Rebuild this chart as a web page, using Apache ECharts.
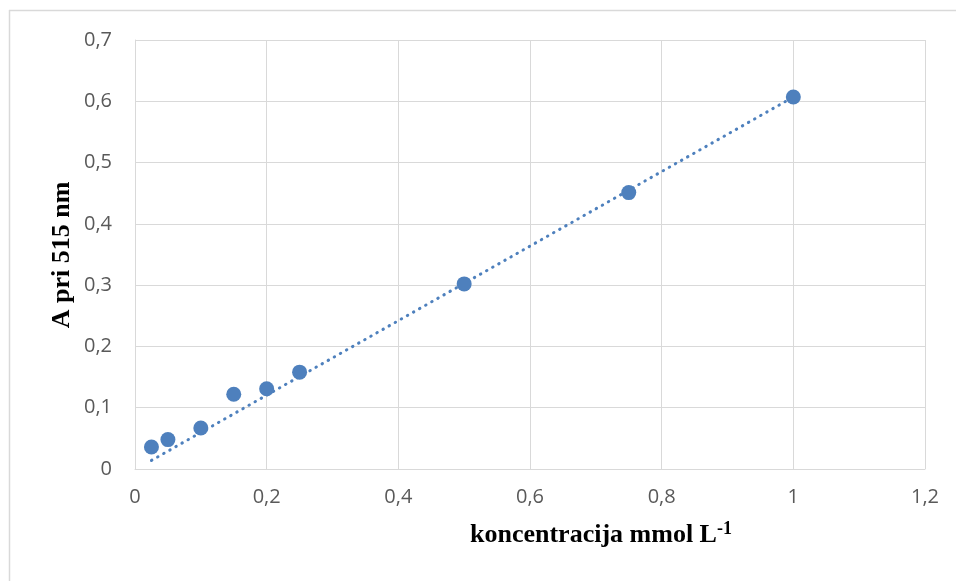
<!DOCTYPE html>
<html>
<head>
<meta charset="utf-8">
<script src="https://cdn.jsdelivr.net/npm/echarts@6/dist/echarts.min.js"></script>
<style>
html,body{margin:0;padding:0;background:#fff;}
#chart{width:956px;height:581px;}
</style>
</head>
<body>
<div id="chart"></div>
<script>
// Data
const concentrations = [0.025, 0.05, 0.1, 0.15, 0.2, 0.25, 0.5, 0.75, 1.0];
const absorbances = [0.036, 0.048, 0.067, 0.122, 0.131, 0.158, 0.302, 0.451, 0.607];
// Trendline endpoints (dotted linear fit)
const trendX = [0.025, 1.0];
const trendY = [0.014, 0.607];
const xTicks = ['0', '0,2', '0,4', '0,6', '0,8', '1', '1,2'];
const yTicks = ['0', '0,1', '0,2', '0,3', '0,4', '0,5', '0,6', '0,7'];
const xTitle = 'koncentracija mmol L';
const xTitleSup = '-1';
const yTitle = 'A pri 515 nm';

const blue = '#4e80bd';
const gridColor = '#d9d9d9';
const labelColor = '#595959';

const chart = echarts.init(document.getElementById('chart'), null, {renderer: 'canvas'});

chart.setOption({
  animation: false,
  backgroundColor: '#ffffff',
  grid: {left: 135, right: 31, top: 40, bottom: 112, containLabel: false},
  title: {
    left: 470, top: 518,
    padding: 0,
    text: '{a|' + xTitle + '}{s|' + xTitleSup + '}',
    textStyle: {
      rich: {
        a: {fontFamily: 'Liberation Serif', fontWeight: 'bold', fontSize: 26, color: '#000', lineHeight: 34},
        s: {fontFamily: 'Liberation Serif', fontWeight: 'bold', fontSize: 18, color: '#000', padding: [0, 0, 12, 0], lineHeight: 34}
      }
    }
  },
  graphic: [
    {type: 'line', shape: {x1: 9.5, y1: 10, x2: 9.5, y2: 581}, style: {stroke: gridColor, lineWidth: 1.5}, silent: true},
    {type: 'line', shape: {x1: 9, y1: 10.5, x2: 956, y2: 10.5}, style: {stroke: gridColor, lineWidth: 1.5}, silent: true},
    {
      type: 'text', rotation: Math.PI / 2,
      x: 62, y: 255,
      style: {text: yTitle, font: 'bold 26px "Liberation Serif"', fill: '#000', textAlign: 'center', textVerticalAlign: 'middle'}
    }
  ],
  xAxis: {
    type: 'value', min: 0, max: 1.2, interval: 0.2,
    axisLine: {show: true, lineStyle: {color: gridColor, width: 1}},
    axisTick: {show: false},
    splitLine: {show: true, lineStyle: {color: gridColor, width: 1}},
    axisLabel: {
      color: labelColor, fontFamily: 'Open Sans', fontSize: 20, margin: 18,
      formatter: function (v) { return xTicks[Math.round(v / 0.2)]; }
    }
  },
  yAxis: {
    type: 'value', min: 0, max: 0.7, interval: 0.1,
    axisLine: {show: true, lineStyle: {color: gridColor, width: 1}},
    axisTick: {show: false},
    splitLine: {show: true, lineStyle: {color: gridColor, width: 1}},
    axisLabel: {
      color: labelColor, fontFamily: 'Open Sans', fontSize: 20, margin: 23,
      formatter: function (v) { return yTicks[Math.round(v / 0.1)]; }
    }
  },
  series: [
    {
      type: 'line',
      data: trendX.map((x, i) => [x, trendY[i]]),
      symbol: 'none',
      lineStyle: {color: blue, width: 3, type: [0.5, 6.5], cap: 'round'},
      z: 2,
      silent: true
    },
    {
      type: 'scatter',
      data: concentrations.map((x, i) => [x, absorbances[i]]),
      symbol: 'circle',
      symbolSize: 15,
      itemStyle: {color: blue, opacity: 1},
      z: 3
    }
  ]
});
</script>
</body>
</html>
